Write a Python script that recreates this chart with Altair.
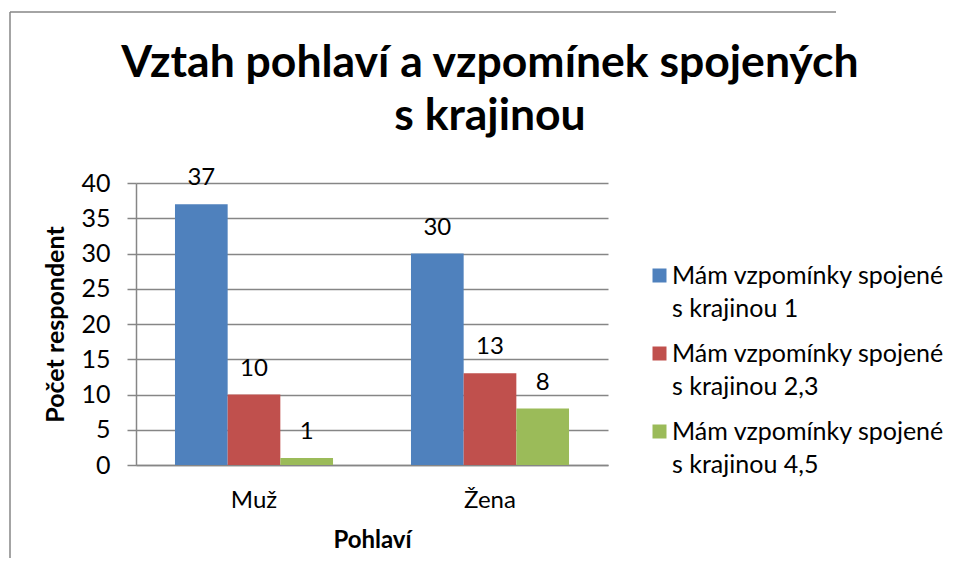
import altair as alt
import pandas as pd

# ---- data ----
categories = ["Muž", "Žena"]
series = [
    "Mám vzpomínky spojené s krajinou 1",
    "Mám vzpomínky spojené s krajinou 2,3",
    "Mám vzpomínky spojené s krajinou 4,5",
]
values_1 = [37, 30]
values_2 = [10, 13]
values_3 = [1, 8]
colors = ["#4F81BD", "#C0504D", "#9BBB59"]
title_lines = ["Vztah pohlaví a vzpomínek spojených", "s krajinou"]
y_ticks = [0, 5, 10, 15, 20, 25, 30, 35, 40]

rows = []
for s, vals in zip(series, [values_1, values_2, values_3]):
    for c, v in zip(categories, vals):
        rows.append({"Pohlaví": c, "Série": s, "Počet": v})
df = pd.DataFrame(rows)

FONT = "Lato"
GRAY = "#868686"

x_enc = alt.X("Pohlaví:N", sort=categories,
              scale=alt.Scale(paddingInner=0, paddingOuter=0),
              axis=alt.Axis(title="Pohlaví", labelAngle=0))
xoff_enc = alt.XOffset("Série:N", sort=series,
                       scale=alt.Scale(paddingInner=0, paddingOuter=0.74))
y_enc = alt.Y("Počet:Q", scale=alt.Scale(domain=[0, 40], nice=False),
              axis=alt.Axis(title="Počet respondent", values=y_ticks,
                            labelOverlap=False))

bars = alt.Chart(df).mark_bar().encode(
    x=x_enc,
    xOffset=xoff_enc,
    y=y_enc,
    color=alt.Color(
        "Série:N", sort=series,
        scale=alt.Scale(domain=series, range=colors),
        legend=alt.Legend(
            title=None, orient="none", legendX=511, legendY=80,
            symbolType="square", symbolSize=196, symbolStrokeWidth=0,
            labelFont=FONT, labelFontSize=25, labelColor="#000000",
            labelBaseline="middle", labelOffset=0,
            labelLimit=400, rowPadding=19,
            labelExpr="[substring(datum.label, 0, indexof(datum.label, ' s ')), "
                      "substring(datum.label, indexof(datum.label, ' s ') + 1)]",
        ),
    ),
)

labels = alt.Chart(df).mark_text(
    baseline="alphabetic", dy=-19, font=FONT, fontSize=24, color="#000000"
).encode(
    x=x_enc,
    xOffset=xoff_enc,
    y=y_enc,
    text="Počet:Q",
)

title = alt.Chart(pd.DataFrame({"t": [0]})).mark_text(
    text=title_lines, font=FONT, fontSize=44.5, fontWeight="bold",
    baseline="top", align="center", lineHeight=53, color="#000000",
).encode(x=alt.value(354), y=alt.value(-141))

frame_top = alt.Chart(pd.DataFrame({"t": [0]})).mark_rule(
    color=GRAY, strokeWidth=1.5
).encode(x=alt.value(-126), x2=alt.value(700), y=alt.value(-171))

frame_left = alt.Chart(pd.DataFrame({"t": [0]})).mark_rule(
    color=GRAY, strokeWidth=1.5
).encode(x=alt.value(-126), y=alt.value(-171), y2=alt.value(400))

chart = alt.layer(frame_top, frame_left, bars, labels, title).properties(
    width=472, height=282,
    autosize=alt.AutoSizeParams(type="none"),
    padding={"left": 128, "top": 175, "right": 341, "bottom": 93},
).configure(
    style={"guide-label": {"lineHeight": 33}}
).configure_view(stroke=None).configure_axisX(
    labelFont=FONT, labelFontSize=24, labelColor="#000000",
    titleFont=FONT, titleFontSize=24, titleFontWeight="bold", titleColor="#000000",
    ticks=False, tickSize=0, labelPadding=23, titlePadding=16,
    domainColor=GRAY, domainWidth=1.5, grid=False,
).configure_axisY(
    labelFont=FONT, labelFontSize=25, labelColor="#000000",
    titleFont=FONT, titleFontSize=25, titleFontWeight="bold", titleColor="#000000",
    tickSize=9, tickColor=GRAY, tickWidth=1.5, labelPadding=17, titlePadding=12,
    domainColor=GRAY, domainWidth=1.5, gridColor=GRAY, gridWidth=1.5,
)

chart.save("out.html", embed_options={"renderer": "svg", "actions": False})
